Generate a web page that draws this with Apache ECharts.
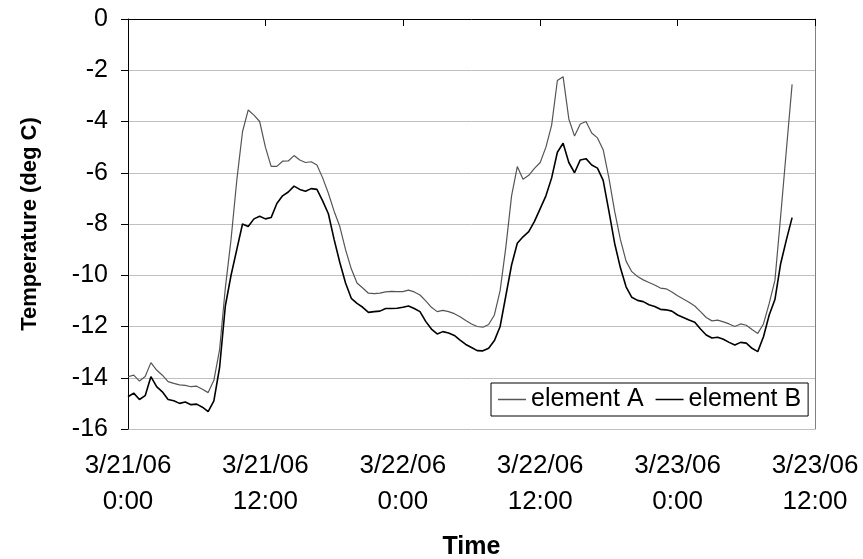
<!DOCTYPE html>
<html>
<head>
<meta charset="utf-8">
<script src="https://cdn.jsdelivr.net/npm/echarts@6/dist/echarts.min.js"></script>
<style>
html,body{margin:0;padding:0;background:#fff;}
#chart{width:863px;height:559px;}
</style>
</head>
<body>
<div id="chart"></div>
<script>
// Time in hours since 3/21/06 0:00, sampled every half hour
const stepHours = 0.5;
const elementA = [
  -13.96,-13.9,-14.13,-13.95,-13.41,-13.7,-13.9,-14.15,-14.22,-14.28,
  -14.3,-14.35,-14.33,-14.45,-14.58,-14.1,-12.9,-10.5,-8.6,-6.3,
  -4.4,-3.55,-3.75,-4.0,-5.0,-5.75,-5.75,-5.55,-5.54,-5.33,
  -5.5,-5.6,-5.57,-5.7,-6.2,-6.8,-7.5,-8.1,-9.0,-9.75,
  -10.3,-10.5,-10.7,-10.72,-10.7,-10.65,-10.63,-10.64,-10.64,-10.58,
  -10.65,-10.77,-11.0,-11.25,-11.42,-11.37,-11.42,-11.5,-11.62,-11.77,
  -11.9,-12.0,-12.03,-11.92,-11.55,-10.6,-8.9,-6.9,-5.76,-6.25,
  -6.1,-5.83,-5.6,-5.0,-4.14,-2.4,-2.25,-3.9,-4.57,-4.1,
  -4.0,-4.45,-4.64,-5.1,-6.2,-7.5,-8.6,-9.45,-9.86,-10.05,
  -10.18,-10.28,-10.38,-10.5,-10.53,-10.65,-10.8,-10.93,-11.05,-11.2,
  -11.42,-11.65,-11.78,-11.75,-11.82,-11.9,-12.0,-11.9,-11.95,-12.12,
  -12.27,-11.9,-11.1,-10.2,-7.7,-5.11,-2.55
];
const elementB = [
  -14.74,-14.6,-14.85,-14.7,-13.96,-14.35,-14.55,-14.85,-14.9,-15.0,
  -14.95,-15.05,-15.03,-15.15,-15.32,-14.9,-13.6,-11.2,-10.0,-9.0,
  -8.0,-8.1,-7.8,-7.7,-7.8,-7.75,-7.2,-6.9,-6.75,-6.52,
  -6.65,-6.72,-6.62,-6.65,-7.1,-7.6,-8.6,-9.5,-10.3,-10.9,
  -11.1,-11.25,-11.45,-11.42,-11.4,-11.3,-11.3,-11.29,-11.25,-11.2,
  -11.3,-11.42,-11.8,-12.1,-12.29,-12.2,-12.25,-12.35,-12.53,-12.7,
  -12.82,-12.94,-12.95,-12.85,-12.55,-12.0,-10.8,-9.6,-8.75,-8.5,
  -8.3,-7.9,-7.4,-6.9,-6.2,-5.2,-4.85,-5.6,-6.0,-5.5,
  -5.45,-5.7,-5.82,-6.3,-7.5,-8.75,-9.7,-10.45,-10.86,-10.98,
  -11.03,-11.15,-11.22,-11.33,-11.35,-11.4,-11.55,-11.65,-11.75,-11.83,
  -12.1,-12.33,-12.45,-12.42,-12.5,-12.62,-12.72,-12.62,-12.65,-12.85,
  -12.98,-12.4,-11.55,-10.95,-9.55,-8.62,-7.75
];
const xTickLabels = ['3/21/06\n0:00','3/21/06\n12:00','3/22/06\n0:00','3/22/06\n12:00','3/23/06\n0:00','3/23/06\n12:00'];
const seriesNames = ['element A','element B'];
const seriesColors = ['#555555','#000000'];

const toPairs = arr => arr.map((v,i)=>[i*stepHours, v]);
const FONT = 'Liberation Sans, Arial, sans-serif';

const chart = echarts.init(document.getElementById('chart'), null, {renderer:'canvas'});
chart.setOption({
  animation:false,
  backgroundColor:'#fff',
  grid:{left:128, right:48, top:19, bottom:130, containLabel:false, outerBoundsMode:'none'},
  legend:{
    left:491, top:383,
    data:seriesNames.map((n,i)=>({name:n, icon:'rect', itemStyle:{color:seriesColors[i]}})),
    orient:'horizontal',
    itemWidth:28, itemHeight:1.5, itemGap:12,
    borderColor:'#000', borderWidth:1, borderRadius:0,
    padding:[4,7,4,7],
    backgroundColor:'#fff',
    textStyle:{fontFamily:FONT, fontSize:25, color:'#000'}
  },
  xAxis:{
    type:'value', min:0, max:60, interval:12,
    name:'Time', nameLocation:'middle', nameGap:106,
    nameTextStyle:{fontFamily:FONT, fontSize:25, fontWeight:'bold', color:'#000'},
    axisLine:{show:true, lineStyle:{color:'#000', width:1}},
    axisTick:{show:true, length:7, lineStyle:{color:'#000'}},
    axisLabel:{
      fontFamily:FONT, fontSize:26, color:'#000', margin:19, lineHeight:36,
      formatter:(v)=>xTickLabels[Math.round(v/12)]
    },
    splitLine:{show:false}
  },
  yAxis:[{
    type:'value', min:-16, max:0, interval:2,
    name:'Temperature (deg C)', nameLocation:'middle', nameGap:87, nameRotate:90,
    nameTextStyle:{fontFamily:FONT, fontSize:22, fontWeight:'bold', color:'#000'},
    axisLine:{show:true, lineStyle:{color:'#000', width:1}},
    axisTick:{show:true, length:7, lineStyle:{color:'#000'}},
    axisLabel:{fontFamily:FONT, fontSize:25, color:'#000', margin:20},
    splitLine:{show:true, lineStyle:{color:'#c0c0c0', width:1}}
  },{
    type:'value', min:-16, max:0, interval:2, position:'right',
    axisLine:{show:true, lineStyle:{color:'#808080', width:1}},
    axisTick:{show:false}, axisLabel:{show:false}, splitLine:{show:false}
  }],
  series:[
    {name:seriesNames[0], type:'line', data:toPairs(elementA), symbol:'none',
     lineStyle:{color:seriesColors[0], width:1.2}, itemStyle:{color:seriesColors[0]}},
    {name:seriesNames[1], type:'line', data:toPairs(elementB), symbol:'none',
     lineStyle:{color:seriesColors[1], width:1.6}, itemStyle:{color:seriesColors[1]}}
  ]
});
</script>
</body>
</html>
